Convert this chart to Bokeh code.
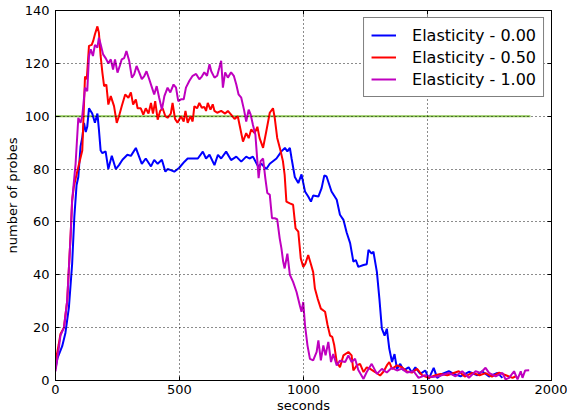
from bokeh.plotting import figure
from bokeh.models import LinearAxis, FixedTicker, Range1d, Legend
from bokeh.embed import file_html
from bokeh.resources import INLINE

t_blue = [0, 8, 27, 40, 54, 67, 76, 85, 92, 101, 108, 115, 122, 128, 135, 148, 159, 169, 175, 182,
          189, 202, 213, 227, 243, 256, 270, 290, 304, 324, 334, 348, 364, 385, 398, 412, 429, 443, 452, 465,
          479, 499, 520, 533, 553, 574, 594, 607, 621, 641, 655, 668, 688, 708, 729, 749, 769, 782, 796, 817,
          830, 850, 864, 891, 911, 925, 935, 945, 952, 965, 979, 992, 1006, 1019, 1030, 1039, 1060, 1073, 1084, 1093,
          1113, 1134, 1147, 1161, 1174, 1188, 1201, 1211, 1221, 1242, 1255, 1262, 1275, 1282, 1296, 1306, 1316, 1327, 1336, 1346,
          1357, 1367, 1377, 1390, 1404, 1424, 1437, 1451, 1471, 1491, 1505, 1525, 1539, 1559, 1586, 1606, 1633, 1667, 1701, 1720,
          1748, 1782, 1802]
v_blue = [4.5, 8.5, 13, 18, 27.6, 44, 62, 74, 77, 88.6, 92, 97.5, 94, 96, 103, 101, 97.5, 101, 95, 87,
          86, 86.7, 80, 85, 80, 81.5, 83.5, 85.4, 85, 88, 85.5, 82, 84, 81, 83.5, 82, 83.5, 79, 80, 79.6,
          79, 80.5, 82.8, 84, 84, 84, 86.6, 84, 85.4, 81.5, 85.4, 84, 86.6, 83.4, 84.7, 82.8, 84.7, 84, 84.7, 81,
          82, 80, 82, 84, 86.7, 88, 86.7, 88, 84, 77, 74.7, 78, 71.5, 69.6, 67.7, 70, 69.6, 72.8, 77.6, 77.2,
          71.5, 68.4, 62.7, 60.8, 56, 52, 45, 45.6, 43, 43.7, 44, 49.4, 48, 48.7, 41, 31, 19.6, 17, 19.6, 12,
          7, 10, 4.4, 6.3, 3.8, 5, 3, 5, 2.5, 3.8, 0.6, 4.8, 1, 2.5, 3.5, 2.5, 1.6, 3.3, 2, 3.5,
          1.5, 2.9, 1]

t_red = [0, 13, 20, 34, 47, 61, 67, 74, 90, 108, 119, 126, 135, 146, 152, 159, 169, 175, 182, 189,
         196, 205, 213, 223, 236, 247, 256, 267, 281, 294, 304, 313, 324, 331, 344, 354, 364, 375, 385, 393,
         402, 412, 422, 432, 443, 452, 465, 472, 482, 492, 506, 517, 524, 533, 544, 553, 560, 571, 580, 590,
         600, 607, 614, 625, 634, 641, 652, 668, 684, 695, 708, 722, 735, 746, 756, 769, 779, 789, 803, 814,
         823, 837, 850, 864, 877, 884, 894, 908, 917, 924, 931, 945, 958, 968, 979, 989, 999, 1008, 1019, 1030,
         1039, 1046, 1057, 1070, 1087, 1097, 1107, 1116, 1124, 1134, 1147, 1161, 1181, 1194, 1201, 1215, 1228, 1242, 1255, 1269,
         1289, 1309, 1323, 1336, 1346, 1357, 1377, 1397, 1417, 1437, 1458, 1478, 1505, 1532, 1552, 1580, 1626, 1650, 1680, 1710,
         1734, 1760, 1789, 1816, 1843, 1856]
v_red = [7, 13.7, 17.6, 20, 30, 55, 68, 73.4, 80, 87, 115, 114, 126.6, 127, 128.5, 131, 134, 131.6, 122.8, 116.5,
         111.4, 112, 104.4, 107.6, 103.8, 97.5, 100, 103.8, 108.2, 107, 109, 104.4, 106.3, 103, 103, 100.6, 103, 101, 105, 101,
         105.7, 98.7, 102, 103, 100, 99.4, 101, 105, 99, 97.5, 100, 98, 102, 97.5, 100, 98, 103.8, 103, 105, 103.2,
         103.5, 102, 105, 102.5, 104.5, 102, 101.3, 102, 101, 102, 100.6, 99, 100, 95, 90.4, 93.6, 91.7, 95, 93.6, 96,
         91.7, 88, 94.3, 101.3, 103, 99.4, 91.8, 86.7, 83, 77.8, 67.7, 67, 66.5, 57.6, 56.3, 46.2, 43, 44.3, 47.5, 44,
         41, 34.8, 31, 27.2, 26, 21, 17, 16.5, 13.3, 7, 5, 9.5, 10.8, 9.5, 3.8, 5.7, 6.3, 3.2, 5, 4.4,
         3.2, 1.9, 3.4, 5.7, 7, 4.4, 5.7, 5, 3.4, 3, 4.4, 2, 1, 2, 2.5, 2, 3.5, 1.5, 2.9, 2,
         2.8, 1.5, 3, 2, 1, 1.6]

t_mag = [0, 13, 20, 34, 47, 61, 67, 81, 92, 101, 108, 119, 128, 135, 142, 151, 159, 169, 175, 182,
         192, 202, 213, 223, 232, 240, 250, 259, 267, 277, 286, 297, 308, 317, 327, 338, 348, 358, 367, 378,
         389, 398, 408, 418, 429, 439, 452, 463, 476, 486, 495, 506, 517, 526, 540, 553, 567, 580, 590, 600,
         611, 621, 628, 641, 652, 661, 668, 675, 684, 695, 708, 719, 729, 738, 749, 760, 769, 779, 787, 796,
         806, 814, 819, 827, 837, 846, 854, 864, 873, 884, 894, 904, 911, 918, 924, 935, 945, 958, 972, 985,
         992, 999, 1006, 1016, 1026, 1039, 1053, 1060, 1070, 1080, 1089, 1100, 1111, 1120, 1134, 1147, 1168, 1181, 1194, 1208,
         1221, 1242, 1255, 1275, 1296, 1316, 1336, 1356, 1377, 1397, 1417, 1444, 1464, 1490, 1518, 1545, 1586, 1613, 1640, 1667,
         1694, 1714, 1734, 1748, 1775, 1802, 1815, 1829, 1849, 1863, 1876, 1883, 1894, 1910]
v_mag = [3.5, 12, 17, 20, 30, 55, 68, 82, 99.4, 97.5, 100, 110.8, 109.5, 122.8, 125.3, 122.8, 127, 126, 129.7, 127.2,
         123.4, 122, 120, 121.5, 117.7, 121.5, 116.5, 119, 121.5, 122, 124.7, 121, 114.6, 115.8, 119, 116.5, 114, 115.2, 117, 114,
         110.8, 108.2, 111.4, 107, 102.5, 107.6, 110.8, 109, 112, 110.8, 105.7, 106.4, 106.4, 110.8, 113.4, 115.3, 116, 114, 115, 116.6,
         115.3, 119.7, 117, 114.6, 115.3, 118.5, 121, 110.8, 116.6, 114.6, 116.6, 115.3, 112, 108.3, 107, 102.5, 98, 102.5, 100.6, 96.8,
         93, 83, 76.6, 83, 84, 76.6, 71, 70.3, 61.4, 61.4, 61, 53.8, 50, 45, 42.4, 48, 40, 37.3, 33.5, 28.5,
         26, 29.7, 21, 13.3, 8.2, 7.6, 10.8, 15.2, 7.6, 13.3, 9.5, 14.6, 7, 10, 5.7, 7.5, 7, 9.5, 7, 8.2,
         4, 0.6, 3.2, 6.3, 2.5, 4.4, 3, 4.8, 3.8, 4.5, 3, 3.5, 1, 2, 1.3, 1.6, 2.9, 1.6, 3.5, 1,
         3.5, 2.9, 4.8, 2.9, 1.6, 2.9, 0.4, 1, 3.5, 0.4, 3.5, 1, 3.8, 3.9]

ref_t = [0, 1915]
ref_v = [100, 100]

labels = ["Elasticity - 0.00", "Elasticity - 0.50", "Elasticity - 1.00"]
x_ticks = [0, 500, 1000, 1500, 2000]
y_ticks = [0, 20, 40, 60, 80, 100, 120, 140]

FONT = "DejaVu Sans"

p = figure(width=567, height=415, output_backend="svg", toolbar_location=None,
           x_range=Range1d(0, 2000), y_range=Range1d(0, 140),
           min_border_left=55, min_border_right=16, min_border_top=10, min_border_bottom=35)
p.outline_line_color = "black"
p.outline_line_width = 1
p.outline_line_alpha = 1

p.line(ref_t, ref_v, line_color="#80c040", line_width=2, line_alpha=0.9)
r0 = p.line(t_blue, v_blue, line_color="#0000ff", line_width=2)
r1 = p.line(t_red, v_red, line_color="#ff0000", line_width=2)
r2 = p.line(t_mag, v_mag, line_color="#bf00bf", line_width=2)

for ax in (p.xaxis[0], p.yaxis[0]):
    ax.major_tick_in = 4
    ax.major_tick_out = 0
    ax.minor_tick_in = 0
    ax.minor_tick_out = 0
    ax.axis_line_color = "black"
    ax.major_label_text_font = FONT
    ax.major_label_text_font_size = "13px"
    ax.major_label_text_color = "black"
    ax.axis_label_text_font = FONT
    ax.axis_label_text_font_size = "13px"
    ax.axis_label_text_font_style = "normal"
    ax.axis_label_text_color = "black"
p.xaxis[0].ticker = FixedTicker(ticks=x_ticks)
p.yaxis[0].ticker = FixedTicker(ticks=y_ticks)
p.xaxis[0].axis_label = "seconds"
p.yaxis[0].axis_label = "number of probes"
p.xaxis[0].major_label_standoff = 4
p.yaxis[0].major_label_standoff = 6
p.xaxis[0].axis_label_standoff = 1
p.yaxis[0].axis_label_standoff = 2

for loc, tick in (("right", y_ticks), ("above", x_ticks)):
    ax = LinearAxis(ticker=FixedTicker(ticks=tick), major_label_text_font_size="0px",
                    major_tick_in=4, major_tick_out=0, minor_tick_in=0, minor_tick_out=0,
                    axis_line_color="black", major_label_standoff=0)
    ax.major_label_overrides = {t: "" for t in tick}
    p.add_layout(ax, loc)

for g in (p.xgrid[0], p.ygrid[0]):
    g.grid_line_color = "black"
    g.grid_line_dash = "1 3"
    g.grid_line_width = 1
    g.grid_line_alpha = 0.9
    g.level = "guide"
p.xgrid[0].ticker = FixedTicker(ticks=x_ticks)
p.ygrid[0].ticker = FixedTicker(ticks=y_ticks)

legend = Legend(items=[(labels[0], [r0]), (labels[1], [r1]), (labels[2], [r2])],
                location="top_right")
legend.label_text_font = FONT
legend.label_text_font_size = "16px"
legend.label_text_color = "black"
legend.border_line_color = "black"
legend.border_line_width = 1
legend.background_fill_alpha = 1
legend.glyph_width = 25
legend.glyph_height = 20
legend.label_height = 20
legend.spacing = 2
legend.padding = 7
legend.label_standoff = 16
legend.margin = 7
p.add_layout(legend, "center")

open("out.html", "w").write(file_html(p, INLINE))
